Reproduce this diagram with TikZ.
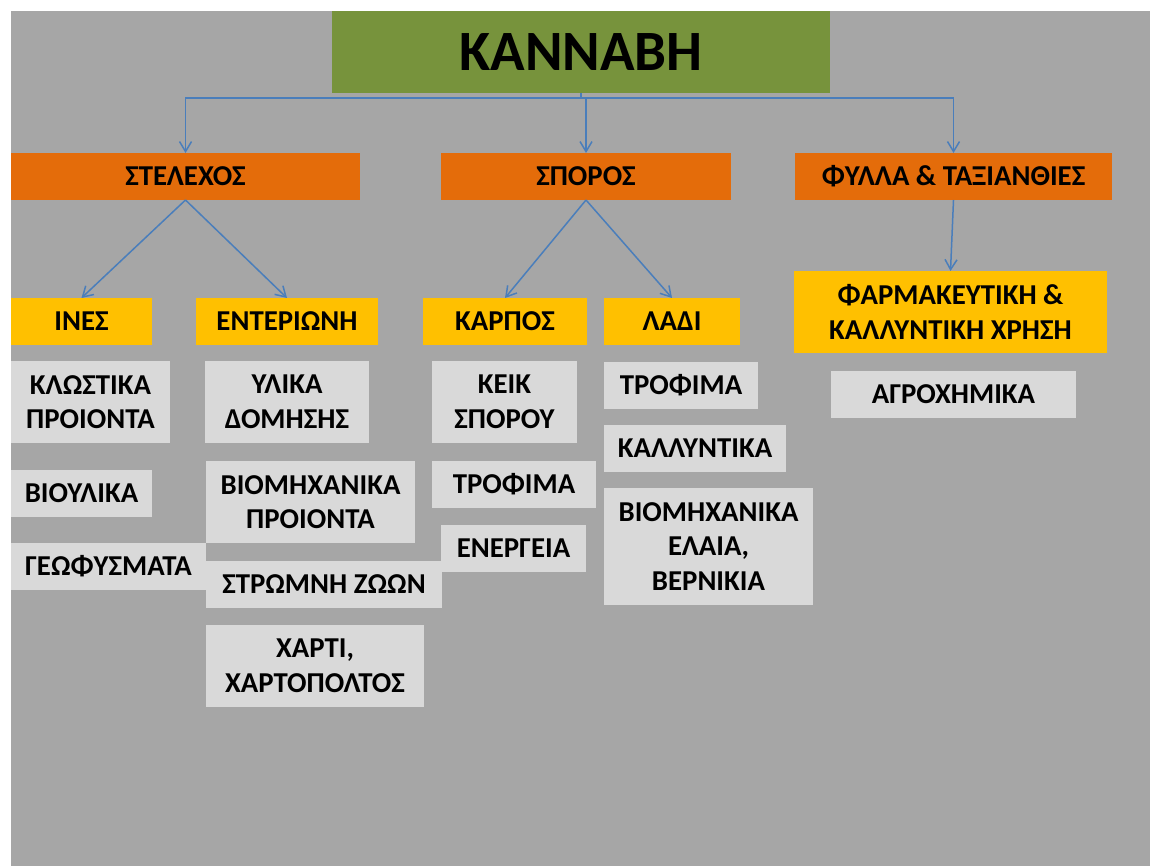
\documentclass[tikz,border=0pt]{standalone}
\usepackage{fontspec}
\setmainfont{Carlito}
\usetikzlibrary{arrows.meta}
\definecolor{slidegray}{HTML}{A6A6A6}
\definecolor{rootgreen}{HTML}{77933C}
\definecolor{partorange}{HTML}{E46C0A}
\definecolor{appyellow}{HTML}{FFC000}
\definecolor{itemgray}{HTML}{D9D9D9}
\definecolor{linkblue}{HTML}{4A7EBB}
\tikzset{
  tagbox/.style={inner sep=0pt, outer sep=0pt, align=center,
    font=\bfseries\fontsize{28.8}{34.5}\selectfont},
  rootbox/.style={tagbox, fill=rootgreen, font=\bfseries\fontsize{57}{64}\selectfont},
  partbox/.style={tagbox, fill=partorange},
  appbox/.style={tagbox, fill=appyellow},
  itembox/.style={tagbox, fill=itemgray},
  wh/.style 2 args={minimum width=#1pt, minimum height=#2pt},
  link/.style={draw=linkblue, line width=1.5pt, -{Straight Barb[length=10pt,width=12pt]}}
}

\begin{document}
\begin{tikzpicture}[x=1pt, y=-1pt]
  \useasboundingbox (0,0) rectangle (1150,866);
  \fill[white] (0,0) rectangle (1150,866);
  \fill[slidegray] (11,11) rectangle (1150,866);

  \node[rootbox, wh={498}{82}] (root) at (581,52) {ΚΑΝΝΑΒΗ};

  \node[partbox, wh={349}{47}] (stem) at (185.5,176.5) {ΣΤΕΛΕΧΟΣ};
  \node[partbox, wh={290}{47}] (seed) at (586,176.5) {ΣΠΟΡΟΣ};
  \node[partbox, wh={317}{47}] (leaf) at (953.5,176.5) {ΦΥΛΛΑ \& ΤΑΞΙΑΝΘΙΕΣ};

  \node[appbox, wh={141}{47}] (fibres) at (81.5,321.5) {ΙΝΕΣ};
  \node[appbox, wh={182}{47}] (hurd) at (287,321.5) {ΕΝΤΕΡΙΩΝΗ};
  \node[appbox, wh={164}{47}] (fruit) at (505,321.5) {ΚΑΡΠΟΣ};
  \node[appbox, wh={136}{47}] (oil) at (672,321.5) {ΛΑΔΙ};
  \node[appbox, wh={313}{82}] (pharma) at (950.5,312) {ΦΑΡΜΑΚΕΥΤΙΚΗ \&\\ΚΑΛΛΥΝΤΙΚΗ ΧΡΗΣΗ};

  % stem products
  \node[itembox, wh={159}{82}] (textile) at (90.5,402) {ΚΛΩΣΤΙΚΑ\\ΠΡΟΙΟΝΤΑ};
  \node[itembox, wh={141}{47}] (biomat) at (81.5,493.5) {ΒΙΟΥΛΙΚΑ};
  \node[itembox, wh={195}{47}] (geotex) at (108.5,566.5) {ΓΕΩΦΥΣΜΑΤΑ};
  \node[itembox, wh={164}{82}] (building) at (287,402) {ΥΛΙΚΑ\\ΔΟΜΗΣΗΣ};
  \node[itembox, wh={209}{82}] (industry) at (310.5,502) {ΒΙΟΜΗΧΑΝΙΚΑ\\ΠΡΟΙΟΝΤΑ};
  \node[itembox, wh={218}{82}] (paper) at (315,666) {ΧΑΡΤΙ,\\ΧΑΡΤΟΠΟΛΤΟΣ};

  % seed products
  \node[itembox, wh={145}{82}] (seedcake) at (504.5,402) {ΚΕΙΚ\\ΣΠΟΡΟΥ};
  \node[itembox, wh={164}{47}] (seedfood) at (514,484.5) {ΤΡΟΦΙΜΑ};
  \node[itembox, wh={145}{47}] (energy) at (513.5,548.5) {ΕΝΕΡΓΕΙΑ};
  \node[itembox, wh={236}{47}] (bedding) at (324,584.5) {ΣΤΡΩΜΝΗ ΖΩΩΝ};
  \node[itembox, wh={154}{47}] (oilfood) at (681,385.5) {ΤΡΟΦΙΜΑ};
  \node[itembox, wh={182}{47}] (cosmetic) at (695,448.5) {ΚΑΛΛΥΝΤΙΚΑ};
  \node[itembox, wh={209}{117}] (varnish) at (708.5,546.5) {ΒΙΟΜΗΧΑΝΙΚΑ\\ΕΛΑΙΑ,\\ΒΕΡΝΙΚΙΑ};

  \node[itembox, wh={245}{47}] (agrochem) at (953.5,394.5) {ΑΓΡΟΧΗΜΙΚΑ};

  \draw[link] (root.south) -- ++(0,5) -| (stem.north);
  \draw[link] (root.south) -- ++(0,5) -| (seed.north);
  \draw[link] (root.south) -- ++(0,5) -| (leaf.north);
  \draw[link] (stem.south) -- (fibres.north);
  \draw[link] (stem.south) -- (hurd.north);
  \draw[link] (seed.south) -- (fruit.north);
  \draw[link] (seed.south) -- (oil.north);
  \draw[link] (leaf.south) -- (pharma.north);
\end{tikzpicture}
\end{document}
